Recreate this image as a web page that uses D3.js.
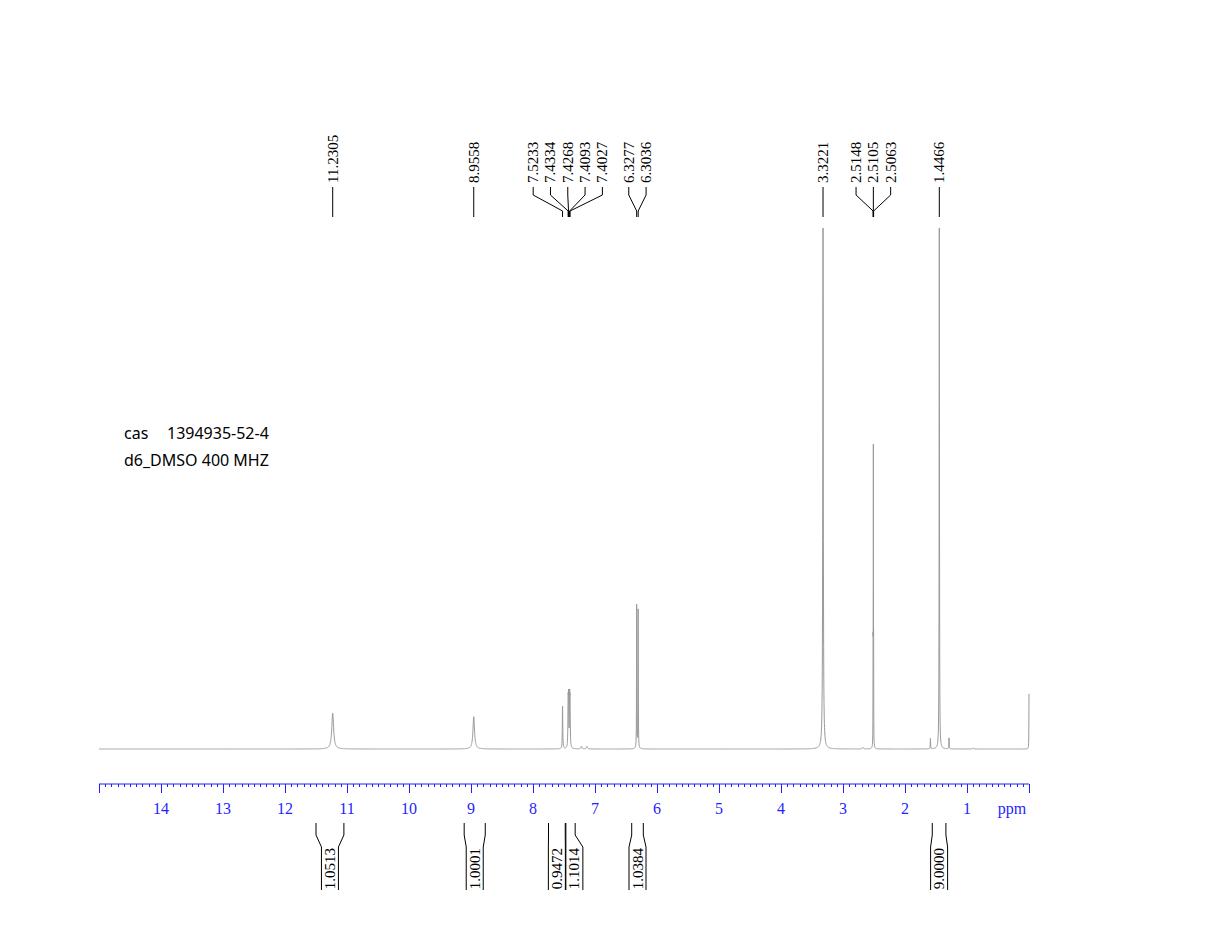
<!DOCTYPE html>
<html><head><meta charset="utf-8">
<script src="https://cdn.jsdelivr.net/npm/d3@7"></script>
<style>
html,body{margin:0;padding:0;background:#fff;}
svg{display:block;}
</style></head>
<body>
<svg id="chart" width="1214" height="952"></svg>
<script>
// ---------- data ----------
const peakPpm    = [11.2305, 8.9558, 7.5233, 7.4334, 7.4268, 7.4093, 7.4027, 7.22, 7.13, 6.3277, 6.3036, 3.3221, 2.5148, 2.5105, 2.5063, 2.68, 1.59, 1.4466, 1.29, 0.90, 0.0];
const peakHeight = [6.9, 6.2, 8.2, 8.0, 8.7, 8.7, 8.0, 0.5, 0.5, 27.5, 26.6, 100, 16.0, 55.0, 16.0, 0.3, 2.0, 100, 2.1, 0.2, 10.6];
const peakWidth  = [0.035, 0.03, 0.008, 0.008, 0.008, 0.008, 0.008, 0.02, 0.02, 0.005, 0.005, 0.01, 0.003, 0.003, 0.003, 0.02, 0.006, 0.006, 0.006, 0.02, 0.004];

const labelGroups = [
  ["11.2305"],
  ["8.9558"],
  ["7.5233","7.4334","7.4268","7.4093","7.4027"],
  ["6.3277","6.3036"],
  ["3.3221"],
  ["2.5148","2.5105","2.5063"],
  ["1.4466"]
];

const intFrom  = [11.50, 9.11, 7.75, 7.47, 6.408, 1.56];
const intTo    = [11.05, 8.77, 7.48, 7.32, 6.221, 1.34];
const intValue = ["1.0513","1.0001","0.9472","1.1014","1.0384","9.0000"];

const tickLabels = [14,13,12,11,10,9,8,7,6,5,4,3,2,1];
const infoLines = [["cas","1394935-52-4"],["d6_DMSO 400 MHZ",""]];

// ---------- scales ----------
const svg = d3.select("#chart");
const x = d3.scaleLinear().domain([15, 0]).range([99, 1029]);
const y = d3.scaleLinear().domain([0, 100]).range([749, 228]);

// ---------- spectrum ----------
const samples = [];
for (let p = 15; p >= 0; p -= 0.002) samples.push(+p.toFixed(4));
peakPpm.forEach(p => { samples.push(p); });
samples.sort((a,b)=>b-a);
function intensity(p){
  let s = 0;
  for (let i=0;i<peakPpm.length;i++){
    const d = (p-peakPpm[i])/(peakWidth[i]/2);
    s += peakHeight[i]/(1+d*d);
  }
  return s;
}
const specData = samples.filter(p=>p>=0 && p<=15).map(p=>[p,intensity(p)]);
svg.append("path")
  .datum(specData)
  .attr("fill","none")
  .attr("stroke","#999")
  .attr("stroke-width",1)
  .attr("d", d3.line().x(d=>x(d[0])).y(d=>y(d[1])));

// ---------- axis ----------
const axisY = 784;
const axisColor = "#1f1fff";
const ax = svg.append("g").attr("transform",`translate(0,${axisY})`);
ax.append("line").attr("x1",x(15)).attr("x2",x(0)).attr("y1",0).attr("y2",0)
  .attr("stroke",axisColor).attr("stroke-width",1);
const minor = d3.range(0,151).map(i=>i/10);
ax.selectAll("line.minor").data(minor).enter().append("line")
  .attr("x1",d=>Math.round(x(d))+0.5).attr("x2",d=>Math.round(x(d))+0.5)
  .attr("y1",0)
  .attr("y2",(d,i)=> i%10===0 ? 9 : 3)
  .attr("stroke",axisColor).attr("stroke-width",1);
ax.selectAll("text.tl").data(tickLabels).enter().append("text")
  .attr("x",d=>x(d)).attr("y",30)
  .attr("text-anchor","middle")
  .attr("font-family","'Liberation Serif', 'Times New Roman', serif")
  .attr("font-size",16).attr("fill",axisColor)
  .text(d=>d);
ax.append("text").attr("x",1012).attr("y",30).attr("text-anchor","middle")
  .attr("font-family","'Liberation Serif', serif").attr("font-size",16).attr("fill",axisColor)
  .text("ppm");

// ---------- peak labels ----------
const lblFont = "'Liberation Serif', 'Times New Roman', serif";
const spacing = 17.3;
labelGroups.forEach(g => {
  const px = g.map(v=>x(+v));
  const c = d3.mean(px);
  g.forEach((v,i)=>{
    const lx = g.length===1 ? px[i] : c + (i-(g.length-1)/2)*spacing;
    svg.append("text")
      .attr("transform",`translate(${lx+5},183) rotate(-90)`)
      .attr("font-family",lblFont).attr("font-size",15).attr("fill","#000")
      .text(v);
    let d;
    if (g.length===1) d = `M${lx},187 V217`;
    else d = `M${lx},187 V195 L${px[i]},211 V217`;
    svg.append("path").attr("d",d).attr("fill","none").attr("stroke","#000").attr("stroke-width",1);
  });
});

// ---------- integrals ----------
let prevRight = -Infinity;
intValue.forEach((v,i)=>{
  const x1 = x(intFrom[i]), x2 = x(intTo[i]);
  const c = (x1+x2)/2;
  const bw = 17;
  let b1 = c - bw/2, b2 = c + bw/2;
  if (b1 < prevRight) { b1 = prevRight+0.5; b2 = b1 + bw; }
  prevRight = b2;
  const dpath = `M${x1},823 V835 L${b1},847 V890 M${x2},823 V835 L${b2},847 V890`;
  svg.append("path").attr("d",dpath).attr("fill","none").attr("stroke","#000").attr("stroke-width",1);
  svg.append("text")
    .attr("transform",`translate(${(b1+b2)/2+5},868.5) rotate(-90)`)
    .attr("text-anchor","middle")
    .attr("font-family",lblFont).attr("font-size",15).attr("fill","#000")
    .text(v);
});

// ---------- info text ----------
const infoFont = "'Noto Sans', 'Open Sans', sans-serif";
svg.append("text").attr("x",124).attr("y",439).attr("font-family",infoFont).attr("font-size",16).text(infoLines[0][0]);
svg.append("text").attr("x",167).attr("y",439).attr("font-family",infoFont).attr("font-size",16).text(infoLines[0][1]);
svg.append("text").attr("x",124).attr("y",466).attr("font-family",infoFont).attr("font-size",16).text(infoLines[1][0]);
</script>
</body></html>
